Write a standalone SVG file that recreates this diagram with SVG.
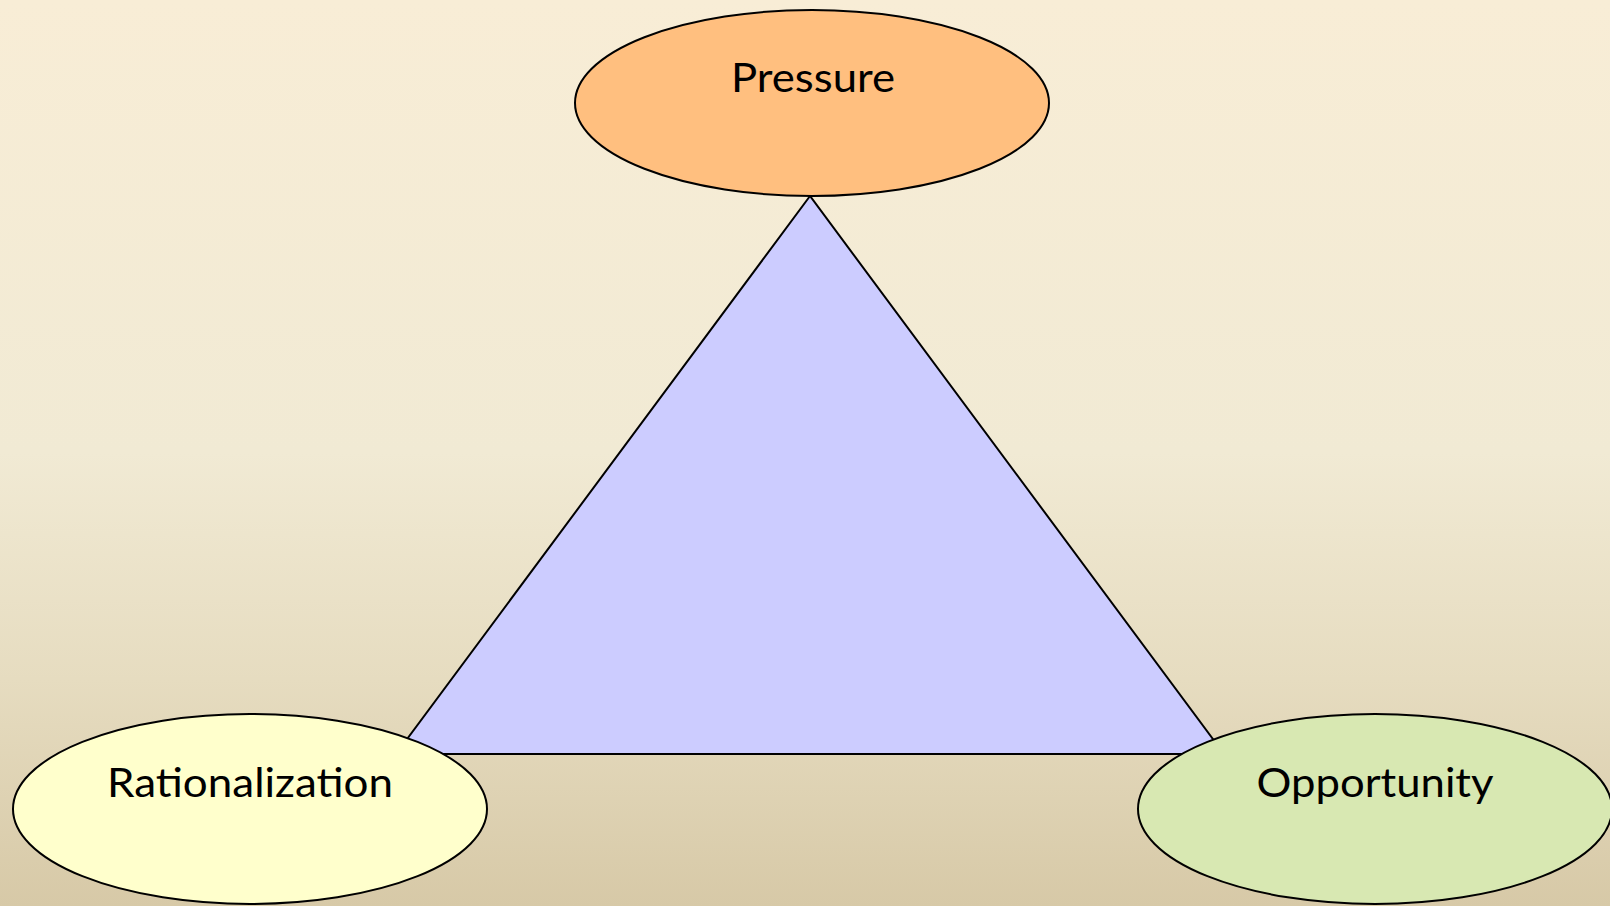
<svg xmlns="http://www.w3.org/2000/svg" width="1610" height="906" viewBox="0 0 1610 906">
<defs>
<linearGradient id="bg" x1="0" y1="0" x2="0" y2="1">
<stop offset="0" stop-color="#F8EDD6"/>
<stop offset="0.5" stop-color="#F1EAD4"/>
<stop offset="0.75" stop-color="#E6DCC0"/>
<stop offset="1" stop-color="#D7C9A7"/>
</linearGradient>
<style>
.shape{stroke:#000;stroke-width:2}
.lbl{font-family:"Lato","Open Sans","Liberation Sans",sans-serif;font-size:41px;fill:#000;text-anchor:middle}
</style>
</defs>
<rect x="0" y="0" width="1610" height="906" fill="url(#bg)"/>
<g id="triangle">
<polygon class="shape" points="810,196 396,754 1224,754" fill="#CCCCFF"/>
</g>
<g id="pressure">
<ellipse class="shape" cx="812" cy="103" rx="237" ry="93" fill="#FFBF7F"/>
<text class="lbl" x="813" y="92" textLength="164" lengthAdjust="spacingAndGlyphs">Pressure</text>
</g>
<g id="rationalization">
<ellipse class="shape" cx="250" cy="809" rx="237" ry="95" fill="#FFFFCC"/>
<text class="lbl" x="250" y="797" textLength="286" lengthAdjust="spacingAndGlyphs">Rationalization</text>
</g>
<g id="opportunity">
<ellipse class="shape" cx="1375" cy="809" rx="237" ry="95" fill="#D8E8B2"/>
<text class="lbl" x="1375" y="797" textLength="237" lengthAdjust="spacingAndGlyphs">Opportunity</text>
</g>
<g id="connectors"></g>
</svg>
